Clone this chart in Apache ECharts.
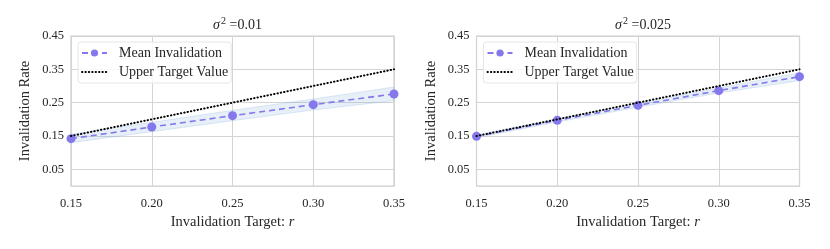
<!DOCTYPE html>
<html><head><meta charset="utf-8">
<script src="https://cdn.jsdelivr.net/npm/echarts@6/dist/echarts.min.js"></script>
<style>html,body{margin:0;padding:0;background:#fff}#c{width:830px;height:249px}</style>
</head><body><div id="c"></div>
<script>
const targets = [0.15, 0.20, 0.25, 0.30, 0.35];
const xTicks = [0.15, 0.20, 0.25, 0.30, 0.35];
const yTickLabels = [0.05, 0.15, 0.25, 0.35, 0.45];
const titles = ['0.01', '0.025'];
const meanA = [0.142, 0.177, 0.211, 0.244, 0.276];
const lowA  = [0.130, 0.163, 0.196, 0.228, 0.256];
const highA = [0.155, 0.191, 0.227, 0.261, 0.297];
const meanB = [0.149, 0.197, 0.242, 0.286, 0.328];
const lowB  = [0.145, 0.192, 0.236, 0.279, 0.316];
const highB = [0.153, 0.202, 0.248, 0.294, 0.340];
const upperTarget = [0.15, 0.20, 0.25, 0.30, 0.35];

const FONT = 'Liberation Serif';
const GRID_C = '#d4d4d4';
const PURPLE = '#8577ec';
const TXT = '#262626';

function pairs(xs, ys){ return xs.map((x,i)=>[x, ys[i]]); }

const grids = [{left:71, top:36, width:323, height:150}, {left:476.5, top:36, width:323, height:150}];
const means = [meanA, meanB], lows = [lowA, lowB], highs = [highA, highB];

const option = {
  animation: false,
  backgroundColor: '#fff',
  textStyle: {fontFamily: FONT},
  title: grids.map((g,i)=>({
    text: '{i|σ}{s|2} {n|=' + titles[i] + '}',
    left: g.left + g.width/2, top: 11, textAlign: 'center',
    textStyle: {fontFamily: FONT, fontSize: 14, fontWeight: 'normal', color:TXT,
      rich: {
        i: {fontFamily: FONT, fontStyle:'italic', fontSize: 14, color:TXT, verticalAlign:'bottom', lineHeight:16},
        s: {fontFamily: FONT, fontSize: 10, color:TXT, verticalAlign:'top', lineHeight:16, padding:[0,0,4,1]},
        n: {fontFamily: FONT, fontSize: 14, color:TXT, verticalAlign:'bottom', lineHeight:16}
      }}
  })),
  grid: grids.map(g=>Object.assign({show:true, borderColor:'#cccccc', borderWidth:1.25, backgroundColor:'transparent'}, g)),
  legend: grids.map((g,i)=>({
    orient:'vertical', left: g.left + 7, top: 42,
    data: [
      {name: 'Mean Invalidation' + (i?' ':'')},
      {name: 'Upper Target Value' + (i?' ':''), itemStyle:{opacity:0}}
    ],
    formatter: n => n.trim(),
    itemWidth: 25, itemHeight: 9, itemGap: 5,
    padding: [4, 3, 4, 3],
    backgroundColor: 'rgba(255,255,255,0.8)', borderColor:'#e6e6e6', borderWidth:1, borderRadius:3,
    textStyle: {fontFamily: FONT, fontSize: 14, color:TXT, padding:[0,0,0,7]},
    selectedMode: false
  })),
  xAxis: grids.map((g,i)=>({
    gridIndex: i, type:'value', min: 0.15, max: 0.35, interval: 0.05,
    name: '{n|Invalidation Target: }{r|r}', nameLocation:'middle', nameGap: 27,
    nameTextStyle: {rich: {n:{fontFamily:FONT, fontSize:14.5, color:TXT}, r:{fontFamily:FONT, fontSize:14.5, fontStyle:'italic', color:TXT}}},
    axisLine:{show:false}, axisTick:{show:false},
    axisLabel:{fontFamily:FONT, fontSize:12.5, color:TXT, margin: 11, formatter: v => v.toFixed(2),
      customValues: xTicks},
    splitLine:{show:true, lineStyle:{color:GRID_C, width:1}}
  })),
  yAxis: grids.map((g,i)=>({
    gridIndex: i, type:'value', min: 0, max: 0.45, interval: 0.05,
    name: 'Invalidation Rate', nameLocation:'middle', nameGap: 38,
    nameTextStyle: {fontFamily:FONT, fontSize:14.5, color:TXT},
    axisLine:{show:false}, axisTick:{show:false},
    axisLabel:{fontFamily:FONT, fontSize:12.5, color:TXT, margin: 7,
      formatter: v => { const s = v.toFixed(2); return yTickLabels.some(t=>Math.abs(t-v)<1e-6) ? s : ''; }},
    splitLine:{show:true, lineStyle:{color:['rgba(0,0,0,0)', GRID_C], width:1}}
  })),
  series: []
};

grids.forEach((g,i)=>{
  const low = lows[i], high = highs[i];
  option.series.push({
    type:'custom', xAxisIndex:i, yAxisIndex:i, silent:true, z:1,
    data: [0],
    renderItem: (params, api) => {
      const pts = [];
      for (let k=0;k<targets.length;k++) pts.push(api.coord([targets[k], high[k]]));
      for (let k=targets.length-1;k>=0;k--) pts.push(api.coord([targets[k], low[k]]));
      return {type:'polygon', shape:{points:pts}, style:{fill:'rgba(110,160,215,0.17)', stroke:'rgba(110,160,215,0.25)', lineWidth:0.8}};
    }
  });
  option.series.push({
    name:'Mean Invalidation' + (i?' ':''), type:'line', xAxisIndex:i, yAxisIndex:i, z:3,
    data: pairs(targets, means[i]),
    symbol:'circle', symbolSize:9, showSymbol:true,
    itemStyle:{color:PURPLE},
    lineStyle:{color:PURPLE, width:1.6, type:[6,4]},
    clip:true
  });
  option.series.push({
    name:'Upper Target Value' + (i?' ':''), type:'line', xAxisIndex:i, yAxisIndex:i, z:4,
    data: pairs(targets, upperTarget),
    symbol:'none', itemStyle:{color:'#000'},
    lineStyle:{color:'#000', width:2, type:[0.4,3], cap:'round'},
    clip:false
  });
});

const chart = echarts.init(document.getElementById('c'), null, {renderer:'canvas'});
chart.setOption(option);
</script></body></html>
